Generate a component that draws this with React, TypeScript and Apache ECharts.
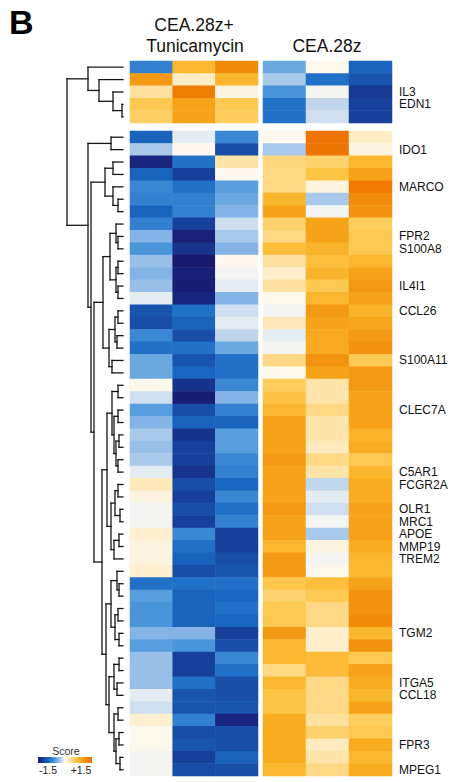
import React, { useEffect, useRef } from 'react';
import * as echarts from 'echarts';

// ---- data ----
const columns = ['r1', 'r2', 'r3'];
const block1Rows = 5;
const rowGap = 0.645; // gap between the two row blocks, in rows

const tunicamycin1 = [
  -0.75, 1.08, 0.32, 0.56, 0.5,
  -0.95, -0.27, -1.4, -0.95, -0.7, -0.75, -0.95, -0.75, -0.4, -0.6, -0.33, -0.4, -0.33, -0.08,
  -1.05, -1.1, -0.7, -0.85, -0.48, -0.48, 0.03, -0.15, -0.55, -0.4, -0.27, -0.33, -0.27, -0.08,
  0.22, 0.08, -0.03, -0.03, 0.14, 0.08, 0.08, 0.14, -0.85, -0.55, -0.6, -0.6, -0.4, -0.55,
  -0.33, -0.33, -0.33, -0.08, -0.15, 0.14, 0.03, 0.03, -0.03, -0.03,
];
const tunicamycin2 = [
  0.78, 0.18, 1.35, 0.98, 0.98,
  -0.08, 0.02, -0.85, -1.2, -0.85, -0.75, -0.75, -1.2, -1.45, -1.3, -1.5, -1.45, -1.47, -1.4,
  -0.85, -0.95, -1.1, -0.85, -1.05, -0.92, -1.3, -1.47, -1.1, -0.95, -1.3, -1.2, -1.2, -1.3,
  -1.1, -1.2, -1.1, -1.2, -0.7, -0.85, -0.95, -1.1, -0.85, -0.95, -0.95, -0.95, -0.4, -0.6,
  -1.2, -1.2, -0.85, -1.05, -1.05, -0.75, -1.1, -1.05, -1.2, -1.1,
];
const tunicamycin3 = [
  1.2, 0.78, 0.08, 0.56, 0.52,
  -0.7, -1.1, 0.28, 0.02, -0.55, -0.48, -0.4, -0.15, -0.27, -0.4, 0.02, -0.03, -0.08, -0.4,
  -0.15, -0.08, -0.2, -0.48, -0.85, -0.85, -0.7, -0.4, -0.75, -0.95, -0.55, -0.55, -0.7, -0.75,
  -0.92, -0.7, -0.85, -0.75, -1.2, -1.2, -1.1, -1.05, -0.85, -0.92, -0.85, -0.92, -1.2, -1.1,
  -0.7, -0.85, -1.1, -1.1, -1.05, -1.4, -1.1, -1.1, -0.95, -1.1,
];
const cea1 = [
  -0.48, -0.27, -0.6, -0.85, -0.85,
  0.03, -0.27, 0.42, 0.4, 0.4, 0.78, 0.98, 0.48, 0.4, 0.68, 0.32, 0.15, 0.32, 0.03,
  -0.03, 0.22, -0.08, -0.03, 0.4, 0.03, 0.52, 0.62, 0.78, 0.98, 0.98, 0.98, 1.08, 0.98,
  0.98, 0.98, 1.08, 0.98, 0.98, 0.78, 1.08, 1.08, 0.58, 0.46, 0.56, 0.56, 1.08, 0.78,
  0.78, 0.4, 0.78, 0.6, 0.6, 0.9, 0.9, 0.9, 0.9, 0.78,
];
const cea2 = [
  0.03, -0.85, -0.03, -0.2, -0.15,
  1.45, 1.45, 0.48, 0.6, 0.08, -0.27, -0.03, 0.98, 0.98, 0.82, 0.68, 0.8, 0.56, 0.78,
  1.08, 0.98, 0.92, 0.92, 1.13, 0.98, 0.28, 0.28, 0.4, 0.28, 0.28, 0.2, 0.4, 0.28,
  -0.2, -0.08, -0.15, -0.03, -0.27, 0.08, -0.03, 0.03, 0.68, 0.56, 0.4, 0.4, 0.15, 0.15,
  0.72, 0.72, 0.4, 0.4, 0.4, 0.32, 0.48, 0.2, 0.28, 0.4,
];
const cea3 = [
  -0.95, -1.05, -1.25, -1.2, -1.2,
  0.18, 0.08, 0.78, 0.98, 1.4, 1.2, 1.13, 0.52, 0.56, 0.56, 0.78, 0.98, 1.08, 0.98,
  0.8, 0.95, 1.08, 1.13, 0.56, 1.08, 1.08, 0.98, 0.98, 0.98, 0.8, 0.9, 0.56, 0.78,
  0.9, 0.9, 0.98, 0.98, 0.98, 0.9, 0.78, 0.78, 0.98, 1.13, 1.13, 1.2, 0.78, 1.13,
  0.56, 0.98, 0.9, 0.78, 0.98, 0.52, 0.56, 0.9, 0.78, 0.9,
];

const geneLabels = [
  'IL3', 'EDN1', 'IDO1', 'MARCO', 'FPR2', 'S100A8', 'IL4I1', 'CCL26', 'S100A11', 'CLEC7A',
  'C5AR1', 'FCGR2A', 'OLR1', 'MRC1', 'APOE', 'MMP19', 'TREM2', 'TGM2', 'ITGA5', 'CCL18',
  'FPR3', 'MPEG1',
];
const geneRows = [2, 3, 6, 9, 13, 14, 17, 19, 23, 27, 32, 33, 35, 36, 37, 38, 39, 45, 49, 50, 54, 56];

const scoreColors = [
  '#191970', '#17409a', '#1a6ac4', '#4a95da', '#a0c4ea', '#fdfaf4',
  '#fee2a4', '#fdc545', '#f8ac20', '#f08c0a', '#ee7000',
];
const scoreMin = -1.5;
const scoreMax = 1.5;

// dendrogram: [height, left, right]; leaf = row index
type TreeNode = number | [number, TreeNode, TreeNode];
const dendrogram: TreeNode = [56,
  [35, 0, [24, 1, [10, 2, [1, 3, 4]]]],
  [35,
    [12, 5, 6],
    [32,
      [18, [10, 7, 8], [10, 9, [5, 10, 11]]],
      [29,
        [20,
          [13, [7, 12, [5, 13, 14]], [7, [5, 15, 16], [5, 17, 18]]],
          [14, [8, [5, 19, 20], [6, 21, 22]], [11, 23, 24]],
        ],
        [21,
          [16,
            [11, [5, 25, 26], [9, [5, 27, 28], [7, [4, 29, 30], [5, 31, 32]]]],
            [12, [8, [5, 33, 34], [3, 35, 36]], [9, [4, 37, 38], 39]],
          ],
          [17,
            [12, [6, 40, [4, 41, 42]], [8, [5, 43, 44], [4, 45, 46]]],
            [14, [9, [4, 47, 48], [6, 49, 50]], [9, [5, 51, 52], [7, [4, 53, 54], [3, 55, 56]]]],
          ],
        ],
      ],
    ],
  ],
];
const dendroMaxHeight = 56;

// ---- helpers ----
const FONT = '"Liberation Sans", Arial, Helvetica, sans-serif';
const totalRows = tunicamycin1.length;

function rowPos(g: number) {
  return g + 0.5 + (g >= block1Rows ? rowGap : 0);
}

function buildSegments(n: TreeNode, segs: number[][]): { h: number; y: number } {
  if (typeof n === 'number') return { h: 0, y: rowPos(n) };
  const [h, a, b] = n;
  const A = buildSegments(a, segs);
  const B = buildSegments(b, segs);
  segs.push([A.h, A.y, h, A.y]);
  segs.push([B.h, B.y, h, B.y]);
  segs.push([h, A.y, h, B.y]);
  return { h, y: (A.y + B.y) / 2 };
}

export default function App() {
  const ref = useRef<HTMLDivElement>(null);

  useEffect(() => {
    if (!ref.current) return;
    const chart = echarts.init(ref.current, undefined, { renderer: 'svg' });

    const segs: number[][] = [];
    buildSegments(dendrogram, segs);

    const tuni = [tunicamycin1, tunicamycin2, tunicamycin3];
    const cea = [cea1, cea2, cea3];
    const cells = (cols: number[][], from: number, to: number) => {
      const out: number[][] = [];
      for (let r = from; r < to; r++) {
        for (let c = 0; c < 3; c++) out.push([c, r - from, cols[c][r]]);
      }
      return out;
    };
    const rowNames = (from: number, to: number) => {
      const out: string[] = [];
      for (let r = from; r < to; r++) {
        const idx = geneRows.indexOf(r);
        out.push(idx >= 0 ? geneLabels[idx] : '');
      }
      return out;
    };

    const top1 = 61;
    const rowH = 12.403;
    const h1 = block1Rows * rowH;
    const top2 = top1 + h1 + rowGap * rowH;
    const h2 = (totalRows - block1Rows) * rowH;
    const leftX = 130, leftW = 128, rightX = 263, rightW = 129;

    const catX = (gi: number) => ({
      type: 'category', gridIndex: gi, data: columns, show: false,
    });
    const catY = (gi: number, data: string[], showLabels: boolean) => ({
      type: 'category', gridIndex: gi, data, inverse: true, position: 'right',
      show: showLabels,
      axisLine: { show: false }, axisTick: { show: false }, splitLine: { show: false },
      axisLabel: {
        show: showLabels, interval: 0, margin: 7, fontSize: 12, lineHeight: 10.5, color: '#111',
        fontFamily: FONT,
      },
    });

    const gradStops = scoreColors.map((c, i) => ({ offset: i / (scoreColors.length - 1), color: c }));

    chart.setOption({
      animation: false,
      backgroundColor: '#ffffff',
      grid: [
        { left: 67, top: top1, width: 56, height: top2 + h2 - top1 },
        { left: leftX, top: top1, width: leftW, height: h1 },
        { left: rightX, top: top1, width: rightW, height: h1 },
        { left: leftX, top: top2, width: leftW, height: h2 },
        { left: rightX, top: top2, width: rightW, height: h2 },
      ],
      xAxis: [
        { type: 'value', gridIndex: 0, min: 0, max: dendroMaxHeight, inverse: true, show: false },
        catX(1), catX(2), catX(3), catX(4),
      ],
      yAxis: [
        { type: 'value', gridIndex: 0, min: 0, max: totalRows + rowGap, inverse: true, show: false },
        catY(1, rowNames(0, block1Rows), false),
        catY(2, rowNames(0, block1Rows), true),
        catY(3, rowNames(block1Rows, totalRows), false),
        catY(4, rowNames(block1Rows, totalRows), true),
      ],
      visualMap: {
        show: false, type: 'continuous', min: scoreMin, max: scoreMax,
        seriesIndex: [1, 2, 3, 4], dimension: 2,
        inRange: { color: scoreColors },
      },
      series: [
        {
          type: 'custom', coordinateSystem: 'cartesian2d', xAxisIndex: 0, yAxisIndex: 0,
          data: segs, encode: { x: [0, 2], y: [1, 3] }, silent: true, clip: false,
          renderItem: (_p: any, api: any) => {
            const p1 = api.coord([api.value(0), api.value(1)]);
            const p2 = api.coord([api.value(2), api.value(3)]);
            return {
              type: 'line',
              shape: { x1: p1[0], y1: p1[1], x2: p2[0], y2: p2[1] },
              style: { stroke: '#161616', lineWidth: 1.3, lineCap: 'square' },
            };
          },
        },
        { type: 'heatmap', xAxisIndex: 1, yAxisIndex: 1, data: cells(tuni, 0, block1Rows), silent: true },
        { type: 'heatmap', xAxisIndex: 2, yAxisIndex: 2, data: cells(cea, 0, block1Rows), silent: true },
        { type: 'heatmap', xAxisIndex: 3, yAxisIndex: 3, data: cells(tuni, block1Rows, totalRows), silent: true },
        { type: 'heatmap', xAxisIndex: 4, yAxisIndex: 4, data: cells(cea, block1Rows, totalRows), silent: true },
      ],
      graphic: [
        {
          type: 'text', left: 9, top: 5,
          style: { text: 'B', fontSize: 34, fontWeight: 'bold', fontFamily: FONT, fill: '#000' },
        },
        {
          type: 'text', x: 194, y: 25,
          style: { text: 'CEA.28z+', fontSize: 17.5, fontFamily: FONT, fill: '#111', align: 'center', verticalAlign: 'middle' },
        },
        {
          type: 'text', x: 195, y: 46,
          style: { text: 'Tunicamycin', fontSize: 17.5, fontFamily: FONT, fill: '#111', align: 'center', verticalAlign: 'middle' },
        },
        {
          type: 'text', x: 327, y: 46,
          style: { text: 'CEA.28z', fontSize: 17.5, fontFamily: FONT, fill: '#111', align: 'center', verticalAlign: 'middle' },
        },
        {
          type: 'text', x: 66, y: 751,
          style: { text: 'Score', fontSize: 10.5, fontFamily: FONT, fill: '#333', align: 'center', verticalAlign: 'middle' },
        },
        {
          type: 'rect', shape: { x: 38, y: 757, width: 54, height: 6 },
          style: { fill: new echarts.graphic.LinearGradient(0, 0, 1, 0, gradStops) },
        },
        {
          type: 'text', x: 48, y: 769.5,
          style: { text: '-1.5', fontSize: 10.5, fontFamily: FONT, fill: '#222', align: 'center', verticalAlign: 'middle' },
        },
        {
          type: 'text', x: 81, y: 769.5,
          style: { text: '+1.5', fontSize: 10.5, fontFamily: FONT, fill: '#222', align: 'center', verticalAlign: 'middle' },
        },
      ],
    });

    return () => chart.dispose();
  }, []);

  return (
    <div
      ref={ref}
      style={{ position: 'fixed', left: 0, top: 0, width: 461, height: 782, background: '#fff' }}
    />
  );
}
